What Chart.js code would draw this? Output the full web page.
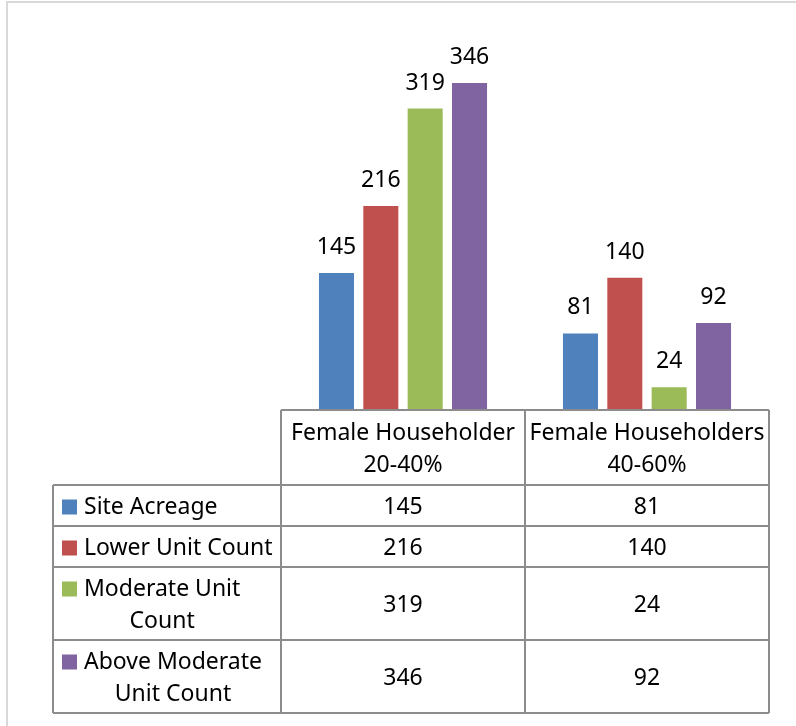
<!DOCTYPE html>
<html>
<head>
<meta charset="utf-8">
<script src="https://cdn.jsdelivr.net/npm/chart.js@4.4.1/dist/chart.umd.min.js"></script>
<style>
  html, body { margin: 0; padding: 0; background: #ffffff; }
  #wrap { position: relative; width: 796px; height: 726px; }
  canvas { display: block; }
</style>
</head>
<body>
<div id="wrap"><canvas id="c" width="796" height="726"></canvas></div>
<script>
// ---- data ----
const categories = ["Female Householder 20-40%", "Female Householders 40-60%"];
const seriesNames = ["Site Acreage", "Lower Unit Count", "Moderate Unit Count", "Above Moderate Unit Count"];
const siteAcreage = [145, 81];
const lowerUnitCount = [216, 140];
const moderateUnitCount = [319, 24];
const aboveModerateUnitCount = [346, 92];
const seriesValues = [siteAcreage, lowerUnitCount, moderateUnitCount, aboveModerateUnitCount];

// ---- style ----
const colors = ["#4F81BD", "#C0504D", "#9BBB59", "#8064A2"];
const FONT_FAMILY = "'Noto Sans', Lato, sans-serif";
const FONT_SIZE = 23;
const FONT = FONT_SIZE + "px " + FONT_FAMILY;
const LINE_H = 32;
const ROW_PAD = 9;
const TEXT_DY = 2;
const TABLE_LEFT = 53;
const GRID = "#8c8c8c";
const LEGEND_TEXT_MAXW = 205;

function wrap(ctx, text, maxW) {
  const words = text.split(" ");
  const lines = [];
  let cur = "";
  for (const w of words) {
    const t = cur ? cur + " " + w : w;
    if (cur && ctx.measureText(t).width > maxW) { lines.push(cur); cur = w; }
    else cur = t;
  }
  if (cur) lines.push(cur);
  return lines;
}

const tablePlugin = {
  id: "tablePlugin",
  beforeDraw(chart) {
    const ctx = chart.ctx;
    ctx.save();
    ctx.strokeStyle = "#d9d9d9";
    ctx.lineWidth = 2;
    ctx.strokeRect(7, 2, 900, 900);
    ctx.restore();
  },
  afterDatasetsDraw(chart) {
    const ctx = chart.ctx;
    const x = chart.scales.x;
    const area = chart.chartArea;
    ctx.save();
    ctx.font = FONT;
    ctx.fillStyle = "#000";
    ctx.textAlign = "center";

    // data labels above bars
    ctx.textBaseline = "alphabetic";
    chart.data.datasets.forEach((ds, di) => {
      const meta = chart.getDatasetMeta(di);
      meta.data.forEach((bar, i) => {
        ctx.fillText(String(ds.data[i]), bar.x, bar.y - 19);
      });
    });
    ctx.textBaseline = "middle";

    // column boundaries from the category scale
    const n = categories.length;
    const bounds = [area.left];
    for (let i = 0; i < n - 1; i++) {
      bounds.push((x.getPixelForTick(i) + x.getPixelForTick(i + 1)) / 2);
    }
    bounds.push(area.right);

    // header row
    const headerLines = categories.map((c, i) => wrap(ctx, c, bounds[i + 1] - bounds[i] + 2));
    const hLines = Math.max(...headerLines.map(l => l.length));
    const headerTop = area.bottom;
    const headerH = hLines * LINE_H + 11;
    const rows = [];
    let y = headerTop + headerH;
    const legendLines = seriesNames.map(s => wrap(ctx, s, LEGEND_TEXT_MAXW));
    legendLines.forEach(lines => {
      const h = lines.length * LINE_H + ROW_PAD;
      rows.push({ top: y, h, lines });
      y += h;
    });
    const tableBottom = y;

    // header text
    headerLines.forEach((lines, i) => {
      const cx = (bounds[i] + bounds[i + 1]) / 2;
      const cy = headerTop + headerH / 2 + TEXT_DY;
      lines.forEach((ln, k) => {
        ctx.fillText(ln, cx, cy + (k - (lines.length - 1) / 2) * LINE_H);
      });
    });

    // rows
    rows.forEach((r, si) => {
      const cy = r.top + r.h / 2;
      const firstY = cy - (r.lines.length - 1) / 2 * LINE_H;
      ctx.fillStyle = colors[si];
      ctx.fillRect(TABLE_LEFT + 9, firstY - 6, 15, 15);
      ctx.fillStyle = "#000";
      const textLeft = TABLE_LEFT + 31;
      const blockW = Math.max(...r.lines.map(l => ctx.measureText(l).width));
      const bc = textLeft + blockW / 2;
      r.lines.forEach((ln, k) => {
        ctx.fillText(ln, bc, firstY + k * LINE_H + TEXT_DY);
      });
      for (let i = 0; i < n; i++) {
        const cx = (bounds[i] + bounds[i + 1]) / 2;
        ctx.fillText(String(seriesValues[si][i]), cx, cy + TEXT_DY);
      }
    });

    // grid lines
    ctx.strokeStyle = GRID;
    ctx.lineWidth = 2;
    ctx.beginPath();
    ctx.moveTo(area.left, headerTop); ctx.lineTo(area.right, headerTop);
    bounds.forEach(b => { ctx.moveTo(b, headerTop); ctx.lineTo(b, tableBottom); });
    ctx.moveTo(TABLE_LEFT, headerTop + headerH); ctx.lineTo(TABLE_LEFT, tableBottom);
    ctx.moveTo(TABLE_LEFT, headerTop + headerH); ctx.lineTo(area.right, headerTop + headerH);
    rows.forEach(r => { ctx.moveTo(TABLE_LEFT, r.top + r.h); ctx.lineTo(area.right, r.top + r.h); });
    ctx.stroke();
    ctx.restore();
  }
};

new Chart(document.getElementById("c"), {
  type: "bar",
  data: {
    labels: categories,
    datasets: seriesNames.map((name, i) => ({
      label: name,
      data: seriesValues[i],
      backgroundColor: colors[i],
      borderWidth: 0,
      categoryPercentage: 0.727,
      barPercentage: 0.79
    }))
  },
  options: {
    responsive: false,
    animation: false,
    devicePixelRatio: 1,
    layout: { padding: { left: 281, right: 27, top: 32, bottom: 316 } },
    plugins: { legend: { display: false }, tooltip: { enabled: false } },
    scales: {
      x: { display: false, offset: true },
      y: { display: false, min: 0, max: 400 }
    }
  },
  plugins: [tablePlugin]
});
</script>
</body>
</html>
